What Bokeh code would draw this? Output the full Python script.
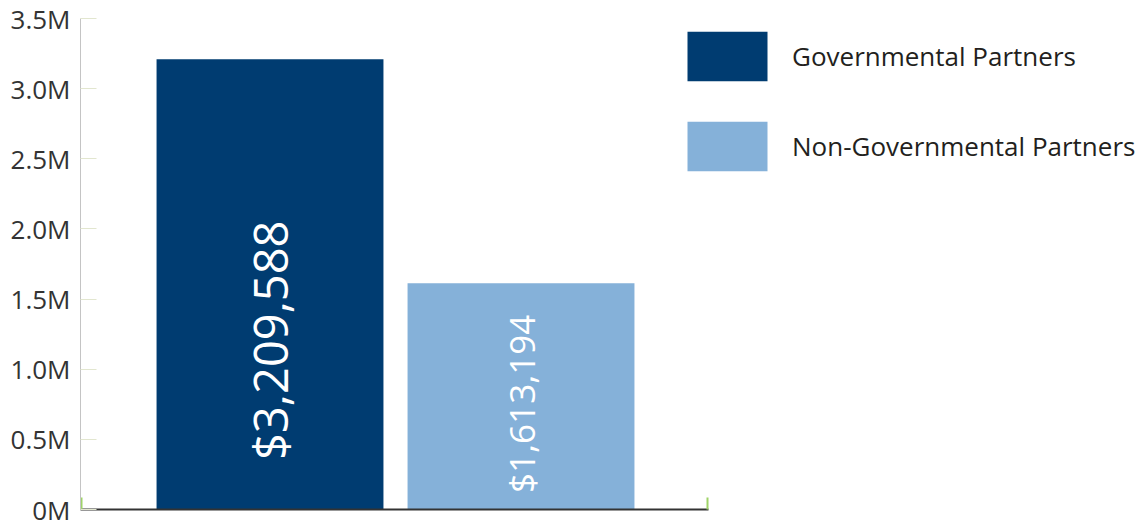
import math
from bokeh.plotting import figure
from bokeh.models import ColumnDataSource, Range1d, FixedTicker, Legend, LegendItem, LinearAxis
from bokeh.core.properties import value
from bokeh.embed import file_html
from bokeh.resources import INLINE

# ---- data ----
categories = ["Governmental Partners", "Non-Governmental Partners"]
amounts = [3209588, 1613194]
y_ticks = [0, 500000, 1000000, 1500000, 2000000, 2500000, 3000000, 3500000]
y_tick_labels = ["0M", "0.5M", "1.0M", "1.5M", "2.0M", "2.5M", "3.0M", "3.5M"]

# ---- style ----
colors = ["#003c71", "#85b1d9"]
label_start_frac = [0.1102, 0.073]   # anchor of each rotated label as a fraction of bar height
label_sizes = ["47px", "35px"]
FONT = "Open Sans"

xpos = [i + 0.5 for i in range(len(categories))]
labels = [f"${v:,}" for v in amounts]
label_y = [v * f for v, f in zip(amounts, label_start_frac)]

src = ColumnDataSource(dict(x=xpos, top=amounts, color=colors, cat=categories))

x0, x1 = -0.255, 2.247
px_per_unit = 628 / (x1 - x0)
x_end = x0 + 1065 / px_per_unit
p = figure(width=1145, height=527, output_backend="svg", toolbar_location=None,
           x_range=Range1d(x0, x_end), y_range=Range1d(0, 3500000),
           min_border_left=80, min_border_right=0, min_border_top=18, min_border_bottom=18,
           x_axis_type=None, y_axis_type=None)
p.outline_line_color = None
p.xgrid.visible = False
p.ygrid.visible = False
p.background_fill_color = "white"

bars = p.vbar(x="x", top="top", width=0.904, bottom=0, color="color", source=src, line_color=None)

for i in range(len(categories)):
    p.text(x=[xpos[i]], y=[label_y[i]], text=[labels[i]], angle=math.pi / 2,
           text_align="left", text_baseline="middle", text_color="white",
           text_font=value(FONT), text_font_size=label_sizes[i])

yaxis = LinearAxis(ticker=FixedTicker(ticks=y_ticks),
                   major_label_overrides={t: l for t, l in zip(y_ticks, y_tick_labels)})
yaxis.axis_line_color = "#c4c4c4"
yaxis.major_tick_in = 16
yaxis.major_tick_out = 0
yaxis.major_tick_line_color = "#e2e6cf"
yaxis.minor_tick_line_color = None
yaxis.major_label_standoff = 10
yaxis.major_label_text_font = FONT
yaxis.major_label_text_font_size = "26px"
yaxis.major_label_text_color = "#333333"
p.add_layout(yaxis, "left")

xt = [x0 + 0.004, x1 - 0.004]
xaxis = LinearAxis(ticker=FixedTicker(ticks=xt), bounds=(x0, x1),
                   major_label_overrides={t: "" for t in xt})
xaxis.axis_line_color = "#333333"
xaxis.axis_line_width = 2
xaxis.major_tick_in = 12
xaxis.major_tick_out = 0
xaxis.major_tick_line_color = "#9fd468"
xaxis.major_tick_line_width = 2
xaxis.minor_tick_line_color = None
xaxis.major_label_text_font_size = "1px"
p.add_layout(xaxis, "below")

items = [LegendItem(label=c, renderers=[bars], index=i) for i, c in enumerate(categories)]
legend = Legend(items=items, location=(597, 332), orientation="vertical",
                glyph_width=100, glyph_height=62, spacing=28, padding=0, margin=0,
                label_standoff=15, border_line_color=None, background_fill_alpha=0,
                label_text_font=FONT, label_text_font_size="26px", label_text_color="#231f20",
                label_text_baseline="middle")
p.add_layout(legend, "center")

open("out.html", "w").write(file_html(p, INLINE))
